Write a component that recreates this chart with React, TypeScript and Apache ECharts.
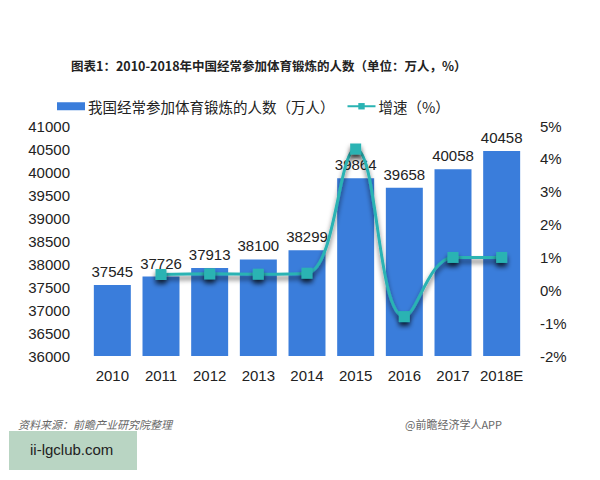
import React, { useEffect, useRef } from "react";
import * as echarts from "echarts";

const categories = ["2010", "2011", "2012", "2013", "2014", "2015", "2016", "2017", "2018E"];
const people = [37545, 37726, 37913, 38100, 38299, 39864, 39658, 40058, 40458];
const growth: (number | null)[] = [null, 0.48, 0.5, 0.49, 0.52, 4.3, -0.8, 1.0, 1.0];

const FONT = "'Liberation Sans', Arial, 'Noto Sans CJK SC', sans-serif";
const CJK = "'Noto Sans CJK SC', sans-serif";

export default function App() {
  const ref = useRef<HTMLDivElement>(null);
  useEffect(() => {
    if (!ref.current) return;
    const chart = echarts.init(ref.current, null, { renderer: "svg" });
    chart.setOption({
      animation: false,
      backgroundColor: "#ffffff",
      textStyle: { fontFamily: FONT },
      title: {
        text: "图表1：2010-2018年中国经常参加体育锻炼的人数（单位：万人，%）",
        left: 66,
        top: 54,
        textStyle: { fontSize: 12.5, fontWeight: "bold", color: "#222", fontFamily: CJK },
      },
      legend: {
        top: 94,
        left: 52,
        itemGap: 12,
        itemWidth: 28,
        itemHeight: 8,
        textStyle: { fontSize: 14.5, color: "#222", fontFamily: CJK, padding: [0, 0, 0, -2] },
        data: [
          { name: "我国经常参加体育锻炼的人数（万人）", icon: "rect" },
          { name: "增速（%）" },
        ],
      },
      grid: { left: 88, right: 74, top: 126, height: 230 },
      xAxis: {
        type: "category",
        data: categories,
        axisLine: { show: false },
        axisTick: { show: false },
        axisLabel: { fontSize: 15, color: "#222", margin: 12, interval: 0 },
      },
      yAxis: [
        {
          type: "value",
          min: 36000,
          max: 41000,
          interval: 500,
          splitLine: { show: false },
          axisLine: { show: false },
          axisTick: { show: false },
          axisLabel: { fontSize: 15, color: "#222", margin: 18, formatter: (v: number) => String(v) },
        },
        {
          type: "value",
          min: -2,
          max: 5,
          interval: 1,
          splitLine: { show: false },
          axisLine: { show: false },
          axisTick: { show: false },
          axisLabel: { fontSize: 15, color: "#222", margin: 14, formatter: "{value}%" },
        },
      ],
      series: [
        {
          name: "我国经常参加体育锻炼的人数（万人）",
          type: "bar",
          data: people,
          barWidth: "76%",
          itemStyle: { color: "#3a7ddb" },
          label: { show: true, position: "top", fontSize: 15, color: "#222", distance: 6 },
        },
        {
          name: "增速（%）",
          type: "line",
          yAxisIndex: 1,
          data: growth,
          smooth: 0.4,
          symbol: "rect",
          symbolSize: 11,
          lineStyle: { color: "#2ab3b3", width: 3, shadowColor: "rgba(0,0,0,0.6)", shadowBlur: 5, shadowOffsetY: 4 },
          itemStyle: { color: "#2ab3b3", shadowColor: "rgba(0,0,0,0.7)", shadowBlur: 5, shadowOffsetY: 4 },
        },
      ],
      graphic: [
        {
          type: "text",
          left: 18,
          top: 418,
          style: { text: "资料来源：前瞻产业研究院整理", fontSize: 11, fontStyle: "italic", fill: "#666", fontFamily: CJK },
        },
        {
          type: "text",
          right: 98,
          top: 418,
          style: { text: "@前瞻经济学人APP", fontSize: 11, fill: "#666", fontFamily: CJK },
        },
        {
          type: "rect",
          shape: { x: 9, y: 431, width: 128, height: 39 },
          style: { fill: "#b9d5c3" },
        },
        {
          type: "text",
          left: 30,
          top: 442,
          style: { text: "ii-lgclub.com", fontSize: 15, fill: "#222", fontFamily: FONT },
        },
      ],
    });
    return () => chart.dispose();
  }, []);
  return <div ref={ref} style={{ width: 600, height: 480, position: "absolute", left: 0, top: 0 }} />;
}
